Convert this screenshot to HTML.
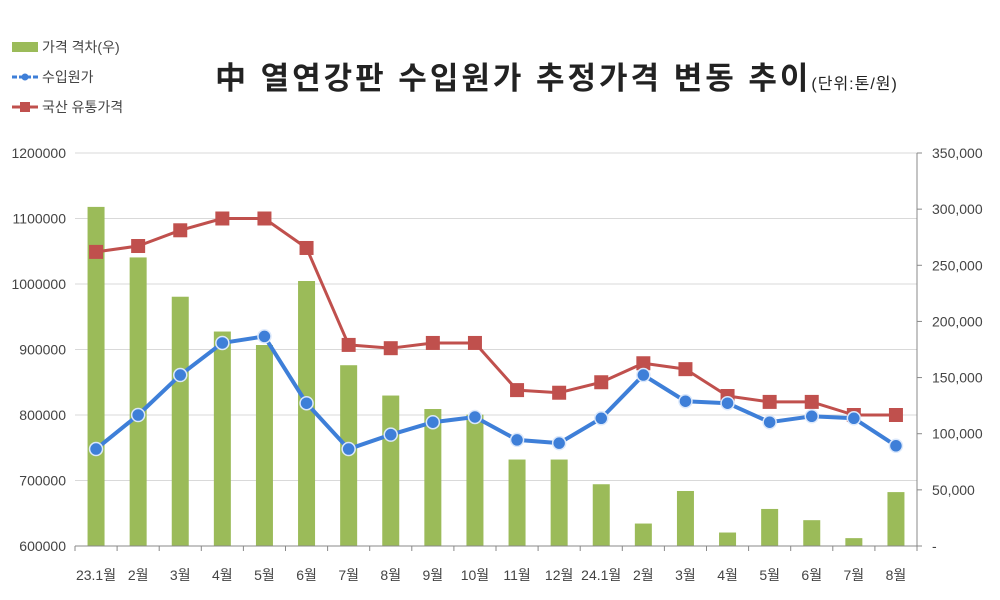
<!DOCTYPE html>
<html><head><meta charset="utf-8"><style>
html,body{margin:0;padding:0;background:#fff;}
svg{display:block;font-family:"Liberation Sans","Noto Sans CJK KR",sans-serif;}
</style></head><body>
<svg id="chart" width="1000" height="600" viewBox="0 0 1000 600">
<g>
 <g><rect x="12" y="42" width="26" height="10" fill="#9bbb59"/><text x="42" y="52" font-size="14" fill="#444">가격 격차(우)</text></g>
 <g><line x1="12" y1="77" x2="38" y2="77" stroke="#3e7fd8" stroke-width="3" stroke-dasharray="5,2"/><circle cx="25" cy="77" r="3.5" fill="#3e7fd8"/><text x="42" y="82" font-size="14" fill="#444">수입원가</text></g>
 <g><line x1="12" y1="107" x2="38" y2="107" stroke="#c0504d" stroke-width="3"/><rect x="20" y="102" width="10" height="10" fill="#c0504d"/><text x="42" y="112" font-size="14" fill="#444">국산 유통가격</text></g>
</g>
<text x="215" y="89" font-size="31" font-weight="bold" fill="#222" letter-spacing="3">中 열연강판 수입원가 추정가격 변동 추이<tspan font-size="16" font-weight="normal" letter-spacing="1">(단위:톤/원)</tspan></text>
<g id="grid"></g><g id="bars"></g><g id="lines"></g><g id="axes"></g>
</svg>
<script>
const categories=["23.1월","2월","3월","4월","5월","6월","7월","8월","9월","10월","11월","12월","24.1월","2월","3월","4월","5월","6월","7월","8월"];
const gapValues=[302000,257000,222000,191000,179000,236000,161000,134000,122000,117000,77000,77000,55000,20000,49000,12000,33000,23000,7000,48000];
const domesticValues=[1049000,1058000,1082000,1100000,1100000,1055000,907000,902000,910000,910000,838000,834000,850000,879000,870000,829000,820000,820000,800000,800000];
const importValues=[748000,800000,861000,910000,920000,818000,748000,770000,789000,797000,762000,757000,795000,861000,821000,818000,789000,798000,795000,753000];
const leftTicks=[600000,700000,800000,900000,1000000,1100000,1200000];
const rightTicks=[0,50000,100000,150000,200000,250000,300000,350000];
const rightTickLabels=["-","50,000","100,000","150,000","200,000","250,000","300,000","350,000"];

const NS="http://www.w3.org/2000/svg";
const X0=75,X1=917,Y0=546,Y1=153;
const slot=(X1-X0)/categories.length;
function xc(i){return X0+slot*(i+0.5);}
function yl(v){return Y0-(v-600000)/600000*(Y0-Y1);}
function yr(v){return Y0-v/350000*(Y0-Y1);}
function mk(tag,attrs,parent){const e=document.createElementNS(NS,tag);for(const k in attrs)e.setAttribute(k,attrs[k]);parent.appendChild(e);return e;}
const grid=document.getElementById('grid'),bars=document.getElementById('bars'),lines=document.getElementById('lines'),axes=document.getElementById('axes');

leftTicks.forEach(t=>{
 const y=yl(t);
 if(t>600000){const g=mk('line',{x1:X0,x2:X1,y1:y,y2:y,stroke:'#d9d9d9','stroke-width':1},grid);
 
 }
 const tx=mk('text',{x:66,y:y+5,'text-anchor':'end','font-size':14,fill:'#444'},axes);tx.textContent=t;
 
 
});
rightTicks.forEach((t,i)=>{
 const y=yr(t);
 const tx=mk('text',{x:932,y:y+5,'font-size':14,fill:'#444'},axes);tx.textContent=rightTickLabels[i];
 
 
 const tk=mk('line',{x1:X1,x2:X1+5,y1:y,y2:y,stroke:'#888'},axes);
 
 
});
const ra=mk('line',{x1:X1,x2:X1,y1:Y1,y2:Y0,stroke:'#888'},axes);


const xa=mk('line',{x1:X0,x2:X1,y1:Y0,y2:Y0,stroke:'#888'},axes);


for(let i=0;i<=categories.length;i++){
 const tk=mk('line',{x1:X0+slot*i,x2:X0+slot*i,y1:Y0,y2:Y0+5,stroke:'#888'},axes);
 
 
}
categories.forEach((c,i)=>{
 const tx=mk('text',{x:xc(i),y:580,'text-anchor':'middle','font-size':14,fill:'#444'},axes);tx.textContent=c;
 
 
});
gapValues.forEach((v,i)=>{
 const y=yr(v);
 const b=mk('rect',{x:xc(i)-8.5,y:y,width:17,height:Y0-y,fill:'#9bbb59'},bars);
 
 
});
function series(vals,color,name,square){
 const pts=vals.map((v,i)=>xc(i)+','+yl(v)).join(' ');
 const pl=mk('polyline',{points:pts,fill:'none',stroke:color,'stroke-width':square?3:4,'stroke-linejoin':'round'},lines);
 
 
 vals.forEach((v,i)=>{
  let m;
  if(square){m=mk('rect',{x:xc(i)-7,y:yl(v)-7,width:14,height:14,fill:color},lines);}
  else{m=mk('circle',{cx:xc(i),cy:yl(v),r:6.5,fill:color,stroke:'#dbe8fb','stroke-width':1.5},lines);}
  
  
 });
}
series(domesticValues,'#c0504d','domestic-price',true);
series(importValues,'#3e7fd8','import-cost',false);
</script>
</body></html>
